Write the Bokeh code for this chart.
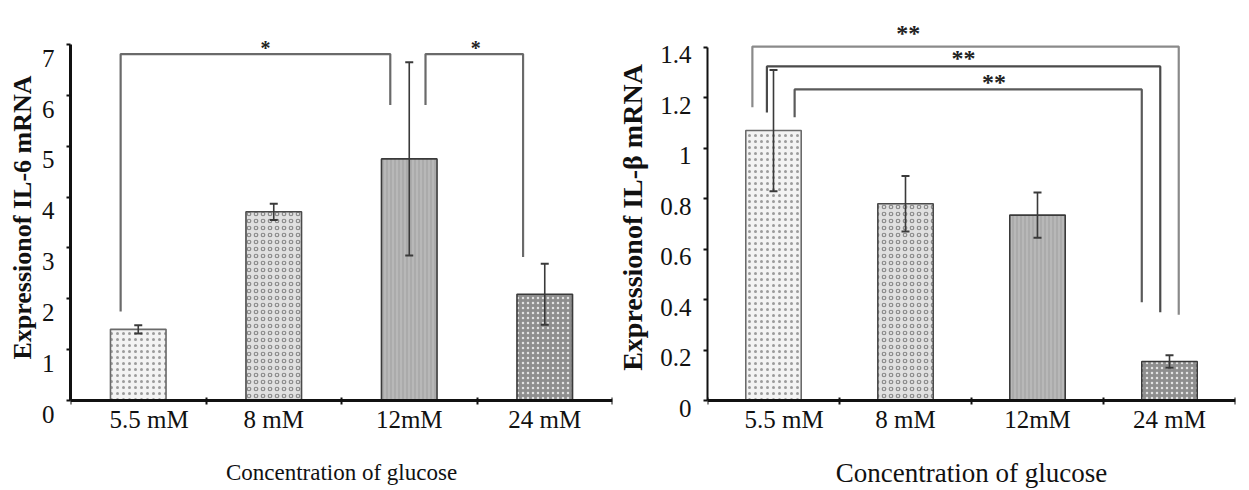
from bokeh.plotting import figure
from bokeh.models import (Range1d, FixedTicker, LinearAxis, ColumnDataSource,
                          Whisker, TeeHead)
from bokeh.layouts import row
from bokeh.core.properties import value
from bokeh.embed import file_html
from bokeh.resources import INLINE

# ---------------------------------------------------------------- data
categories = ["5.5 mM", "8 mM", "12mM", "24 mM"]

il6_mean = [1.40, 3.71, 4.75, 2.09]
il6_err = [0.08, 0.16, 1.90, 0.60]
il6_ticks = [0, 1, 2, 3, 4, 5, 6, 7]
il6_tick_labels = ["0", "1", "2", "3", "4", "5", "6", "7"]

il1b_mean = [1.07, 0.78, 0.735, 0.155]
il1b_err = [0.24, 0.11, 0.09, 0.025]
il1b_ticks = [0, 0.2, 0.4, 0.6, 0.8, 1.0, 1.2, 1.4]
il1b_tick_labels = ["0", "0.2", "0.4", "0.6", "0.8", "1", "1.2", "1.4"]

# significance brackets: leg x positions, bar height, leg ends, marker
il6_br_x0 = [0.37, 2.62]
il6_br_x1 = [2.36, 3.34]
il6_br_top = [6.81, 6.81]
il6_br_end0 = [1.75, 5.81]
il6_br_end1 = [5.81, 2.82]
il6_stars = ["*", "*"]
il6_star_x = [1.44, 2.99]
il6_star_y = [6.93, 6.93]

il1b_br_x0 = [0.34, 0.45, 0.66]
il1b_br_x1 = [3.57, 3.43, 3.29]
il1b_br_top = [1.403, 1.324, 1.233]
il1b_br_end0 = [1.162, 1.142, 1.123]
il1b_br_end1 = [0.34, 0.35, 0.39]
il1b_stars = ["**", "**", "**"]
il1b_star_x = [1.52, 1.94, 2.17]
il1b_star_y = [1.458, 1.356, 1.262]

# ---------------------------------------------------------------- styles
SERIF = "Liberation Serif"
bar_fill = ["#f3f3f3", "#e0e0e0", "#b8b8b8", "#8e8e8e"]
bar_hatch = ["dot", "ring", "vertical_line", "dot"]
bar_hatch_color = ["#9c9c9c", "#8a8a8a", "#a2a2a2", "#e2e2e2"]
bar_hatch_scale = [6, 7, 4, 5]
bar_line = ["#6a6a6a", "#4a4a4a", "#3a3a3a", "#3a3a3a"]


def build(width, b_left, b_right, y_start, y_end, y_top_tick,
          mean, err, ticks, tick_labels, label_shift, bar_w,
          ytitle, ytitle_size, ytitle_standoff, yaxis_w,
          xtitle_size, xtitle_standoff,
          br, stars, star_size, br_colors):
    p = figure(width=width, height=490, output_backend="svg",
               toolbar_location=None, x_range=Range1d(0, 4),
               y_range=Range1d(y_start, y_end),
               min_border_left=b_left, min_border_right=b_right,
               min_border_top=16, min_border_bottom=70)
    p.outline_line_color = None
    p.xgrid.visible = False
    p.ygrid.visible = False
    p.background_fill_color = "white"

    xs = [i + 0.5 for i in range(len(categories))]
    src = ColumnDataSource(dict(
        x=xs, top=mean,
        upper=[m + e for m, e in zip(mean, err)],
        lower=[m - e for m, e in zip(mean, err)],
        fill=bar_fill, hatch=bar_hatch, hcol=bar_hatch_color,
        hscale=bar_hatch_scale, line=bar_line))

    p.vbar(x="x", top="top", bottom=0, width=bar_w, source=src,
           fill_color="fill", hatch_pattern="hatch", hatch_color="hcol",
           hatch_scale="hscale", hatch_weight=1.2,
           line_color="line", line_width=1.6)

    whisk = Whisker(source=src, base="x", upper="upper", lower="lower",
                    line_color="#3a3a3a", line_width=1.6, level="annotation",
                    upper_head=TeeHead(size=8, line_color="#3a3a3a", line_width=2),
                    lower_head=TeeHead(size=8, line_color="#3a3a3a", line_width=2))
    p.add_layout(whisk)

    # significance brackets
    bx0, bx1, btop, bend0, bend1 = br
    p.multi_line(xs=[[a, a, b, b] for a, b in zip(bx0, bx1)],
                 ys=[[e0, t, t, e1] for t, e0, e1 in zip(btop, bend0, bend1)],
                 line_color=br_colors, line_width=2.2)
    sx, sy, st = stars
    p.text(x=sx, y=sy, text=st, text_font=value(SERIF),
           text_font_size=value(star_size), text_font_style="bold",
           text_align="center", text_baseline="middle", text_color="#222222")

    # x axis labels and title (frame edge, no line)
    xa = p.xaxis[0]
    label_pos = [0.58, 1.5, 2.5, 3.5]
    xa.ticker = FixedTicker(ticks=label_pos)
    xa.major_label_overrides = {k: v for k, v in zip(label_pos, categories)}
    xa.axis_line_color = None
    xa.major_tick_line_color = None
    xa.minor_tick_line_color = None
    xa.major_tick_in = 0
    xa.major_tick_out = 0
    xa.major_label_standoff = -13
    xa.major_label_text_font = SERIF
    xa.major_label_text_font_size = "25px"
    xa.major_label_text_color = "#111111"
    xa.axis_label = "Concentration of glucose"
    xa.axis_label_standoff = xtitle_standoff
    xa.axis_label_text_font = SERIF
    xa.axis_label_text_font_size = xtitle_size
    xa.axis_label_text_font_style = "normal"
    xa.axis_label_text_color = "#111111"

    # x axis line pinned at zero with category boundary ticks
    xline = LinearAxis(ticker=FixedTicker(ticks=[], minor_ticks=[0, 1, 2, 3, 4]),
                       fixed_location=0, axis_line_width=3,
                       axis_line_color="#111111", major_tick_line_color=None,
                       major_tick_in=0, major_tick_out=0,
                       minor_tick_in=3, minor_tick_out=4,
                       minor_tick_line_width=2, minor_tick_line_color="#111111",
                       major_label_standoff=0)
    p.add_layout(xline, "below")

    # y axis line with small tick marks
    ya = p.yaxis[0]
    ya.ticker = FixedTicker(ticks=[], minor_ticks=ticks)
    ya.bounds = (0, y_top_tick)
    ya.axis_line_width = yaxis_w
    ya.axis_line_color = "#111111"
    ya.minor_tick_in = 0
    ya.minor_tick_out = 4
    ya.minor_tick_line_width = 2
    ya.minor_tick_line_color = "#111111"
    ya.major_tick_line_color = None
    ya.major_label_standoff = 0

    # tick labels, set slightly under their ticks
    shifted = [t - label_shift for t in ticks]
    yl = LinearAxis(ticker=FixedTicker(ticks=shifted),
                    major_label_overrides={k: v for k, v in zip(shifted, tick_labels)},
                    axis_line_color=None, major_tick_line_color=None,
                    minor_tick_line_color=None, major_tick_in=0,
                    major_tick_out=0, major_label_standoff=12,
                    major_label_text_font=SERIF,
                    major_label_text_font_size="25px",
                    major_label_text_color="#111111",
                    axis_label=ytitle, axis_label_standoff=ytitle_standoff,
                    axis_label_text_font=SERIF,
                    axis_label_text_font_style="bold",
                    axis_label_text_font_size=ytitle_size,
                    axis_label_text_color="#111111")
    p.add_layout(yl, "left")
    return p


left = build(614, 70, 2, -0.352, 7.548, 7,
             il6_mean, il6_err, il6_ticks, il6_tick_labels, 0.27, 0.41,
             "Expressionof IL-6 mRNA", "26px", 2, 3, "23px", 24,
             (il6_br_x0, il6_br_x1, il6_br_top, il6_br_end0, il6_br_end1),
             (il6_star_x, il6_star_y, il6_stars), "20px",
             ["#6a6a6a", "#6a6a6a"])

right = build(635, 88, 14, -0.071, 1.522, 1.4,
              il1b_mean, il1b_err, il1b_ticks, il1b_tick_labels, 0.03, 0.42,
              "Expressionof IL-\u03b2 mRNA", "28px", 9, 2, "27px", 22,
              (il1b_br_x0, il1b_br_x1, il1b_br_top, il1b_br_end0, il1b_br_end1),
              (il1b_star_x, il1b_star_y, il1b_stars), "24px",
              ["#8a8a8a", "#4a4a4a", "#5a5a5a"])

layout = row(left, right)
open("out.html", "w").write(file_html(layout, INLINE))
